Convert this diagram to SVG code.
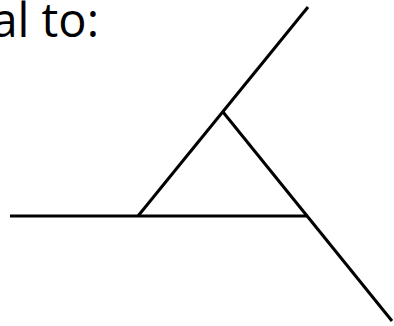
<svg xmlns="http://www.w3.org/2000/svg" width="394" height="326" viewBox="0 0 394 326">
<style>
.t{font-family:"Open Sans","Liberation Sans",sans-serif;font-size:47px;fill:#000}
.l{stroke:#000;stroke-width:3;fill:none;stroke-linecap:butt}
</style>
<rect width="394" height="326" fill="#fff"/>
<g id="label"><text class="t" x="99" y="37" text-anchor="end">al to:</text></g>
<g id="connectors">
<line class="l" x1="10" y1="216" x2="308" y2="216"/>
<line class="l" x1="138" y1="216" x2="308" y2="7"/>
<line class="l" x1="223" y1="112" x2="392" y2="321"/>
</g>
</svg>
